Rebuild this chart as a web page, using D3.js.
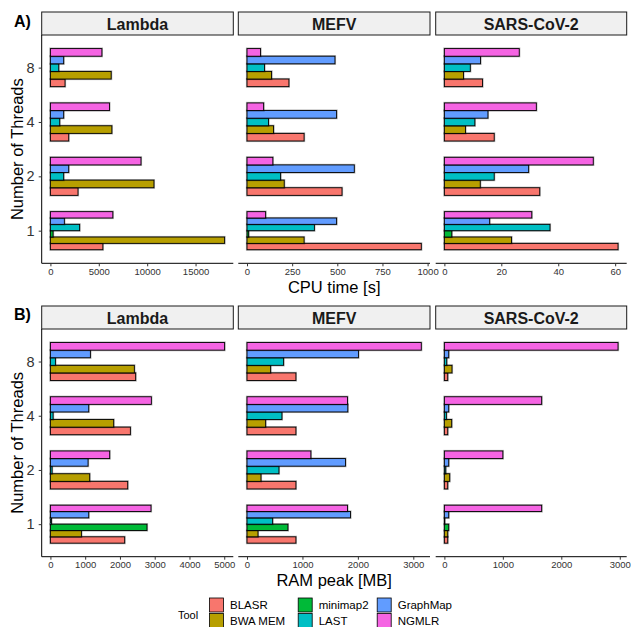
<!DOCTYPE html>
<html><head><meta charset="utf-8">
<script src="https://cdn.jsdelivr.net/npm/d3@7"></script>
<style>body{margin:0;background:#fff}svg{display:block}</style>
</head><body>
<script>
// ---- data ----
const tools = ["BLASR","BWA MEM","minimap2","LAST","GraphMap","NGMLR"];
const toolColors = ["#F8766D","#B79F00","#00BA38","#00BFC4","#619CFF","#F564E3"];
const threads = ["1","2","4","8"];
const genomes = ["Lambda","MEFV","SARS-CoV-2"];
// rows = tools, columns = threads (1,2,4,8)
const cpuLambda = [
 [5420,2850,1890,1510],
 [18000,10700,6350,6280],
 [275,null,null,null],
 [3020,1370,960,860],
 [1440,1890,1370,1370],
 [6450,9360,6100,5320]
];
const cpuMEFV = [
 [965,526,316,232],
 [316,206,147,136],
 [9,null,null,null],
 [373,186,119,97],
 [496,594,496,487],
 [103,143,92,75]
];
const cpuSARS = [
 [61,33.5,17.5,13.4],
 [23.6,12.6,7.4,6.7],
 [2.6,null,null,null],
 [37.1,17.5,10.7,9.1],
 [15.9,29.6,15.3,12.7],
 [30.7,52.3,32.3,26.3]
];
const ramLambda = [
 [2136,2223,2300,2452],
 [891,1130,1820,2414],
 [2778,null,null,null],
 [29,48,77,144],
 [1102,1083,1102,1150],
 [2893,1705,2903,5010]
];
const ramMEFV = [
 [882,882,882,882],
 [198,252,336,426],
 [738,null,null,null],
 [462,576,630,660],
 [1866,1776,1818,2010],
 [1812,1152,1812,3144]
];
const ramSARS = [
 [57,57,57,57],
 [57,91,125,130],
 [74,null,null,null],
 [6,23,34,40],
 [74,74,74,74],
 [1664,1000,1664,2970]
];
const cpuTicks = [[0,5000,10000,15000],[0,250,500,750,1000],[0,20,40,60]];
const ramTicks = [[0,1000,2000,3000,4000,5000],[0,1000,2000,3000],[0,1000,2000,3000]];

// ---- layout ----
const W = 631, H = 627;
const FONT = "'Liberation Sans', Arial, Helvetica, sans-serif";
const svg = d3.select("body").append("svg").attr("width", W).attr("height", H)
  .style("font-family", FONT);
const colX = [[41.7,233.3],[238.3,430],[435.7,626.7]];
const rows = [
  {label:"A)", labelY:27, stripTop:12, bodyTop:35, bodyBottom:263.3, data:[cpuLambda,cpuMEFV,cpuSARS], ticks:cpuTicks, title:"CPU time [s]"},
  {label:"B)", labelY:320, stripTop:306, bodyTop:329, bodyBottom:556.7, data:[ramLambda,ramMEFV,ramSARS], ticks:ramTicks, title:"RAM peak [MB]"}
];
const color = d3.scaleOrdinal().domain(tools).range(toolColors);

rows.forEach(row => {
  const y = d3.scalePoint().domain(threads.slice().reverse())
    .range([row.bodyTop, row.bodyBottom]).padding(0.6);
  const step = y.step();
  const groupW = 0.7 * step;

  // panel label
  svg.append("text").attr("x", 14).attr("y", row.labelY)
    .attr("font-size", 16).attr("font-weight", "bold").attr("fill", "#000").text(row.label);

  genomes.forEach((g, gi) => {
    const [x0, x1] = colX[gi];
    const mat = row.data[gi];
    const maxV = d3.max(mat.flat().filter(v => v != null));
    const x = d3.scaleLinear().domain([-0.05 * maxV, 1.05 * maxV]).range([x0, x1]);

    // strip
    svg.append("rect").attr("x", x0).attr("y", row.stripTop)
      .attr("width", x1 - x0).attr("height", row.bodyTop - row.stripTop)
      .attr("fill", "#F0F0F0").attr("stroke", "#1a1a1a").attr("stroke-width", 1);
    svg.append("text").attr("x", (x0 + x1) / 2).attr("y", row.stripTop + 17.5)
      .attr("text-anchor", "middle").attr("font-size", 16).attr("font-weight", "bold")
      .attr("fill", "#1a1a1a").text(g);

    // bars
    const gBars = svg.append("g");
    threads.forEach((t, ti) => {
      const present = tools.map((tool, k) => ({tool, v: mat[k][ti]})).filter(d => d.v != null);
      const h = groupW / present.length;
      const base = y(t) + groupW / 2;
      present.forEach((d, i) => {
        const yy = base - (i + 1) * h;
        gBars.append("rect").attr("x", x(0)).attr("y", yy)
          .attr("width", Math.max(0, x(d.v) - x(0))).attr("height", h)
          .attr("fill", "none").attr("stroke", "rgba(0,0,0,0.3)").attr("stroke-width", 2.2);
        gBars.append("rect").attr("x", x(0)).attr("y", yy)
          .attr("width", Math.max(0, x(d.v) - x(0))).attr("height", h)
          .attr("fill", color(d.tool)).attr("stroke", "#000").attr("stroke-width", 0.9);
      });
    });

    // x axis
    const xa = svg.append("g").attr("transform", `translate(0,${row.bodyBottom})`)
      .call(d3.axisBottom(x).tickValues(row.ticks[gi]).tickSize(3).tickPadding(2).tickFormat(d3.format("d")));
    xa.select(".domain").attr("d", `M${x0},0H${x1}`).attr("stroke", "#000").attr("stroke-width", 1);
    xa.selectAll(".tick line").attr("stroke", "#333");
    xa.selectAll(".tick text").attr("font-size", 9.5).attr("fill", "#333").attr("font-family", FONT);

    // y axis only on first panel
    if (gi === 0) {
      const ya = svg.append("g").attr("transform", `translate(${x0},0)`)
        .call(d3.axisLeft(y).tickSize(3).tickPadding(4));
      ya.select(".domain").attr("d", `M0,${row.bodyTop}V${row.bodyBottom}`).attr("stroke", "#000").attr("stroke-width", 1);
      ya.selectAll(".tick line").attr("stroke", "#333");
      ya.selectAll(".tick text").attr("font-size", 14.5).attr("fill", "#333").attr("font-family", FONT);
    }
  });

  // axis titles
  svg.append("text").attr("x", (colX[0][0] + colX[2][1]) / 2).attr("y", row.bodyBottom + 29.5)
    .attr("text-anchor", "middle").attr("font-size", 16.5).attr("fill", "#000").text(row.title);
  const cy = (row.bodyTop + row.bodyBottom) / 2;
  svg.append("text").attr("transform", `translate(22.5,${cy}) rotate(-90)`)
    .attr("text-anchor", "middle").attr("font-size", 16.5).attr("fill", "#000").text("Number of Threads");
});

// legend
const leg = svg.append("g");
leg.append("text").attr("x", 178).attr("y", 619).attr("font-size", 11).attr("fill", "#000").text("Tool");
const legCols = [209, 297.7, 376.7];
tools.forEach((tool, i) => {
  const c = Math.floor(i / 2), r = i % 2;
  const kx = legCols[c], ky = 597.5 + r * 15.5;
  leg.append("rect").attr("x", kx + 0.5).attr("y", ky + 0.5).attr("width", 14).attr("height", 14)
    .attr("fill", color(tool)).attr("stroke", "#000").attr("stroke-width", 0.8);
  leg.append("text").attr("x", kx + 21).attr("y", ky + 11.5).attr("font-size", 11.5).attr("fill", "#000").text(tool);
});
</script>
</body></html>
